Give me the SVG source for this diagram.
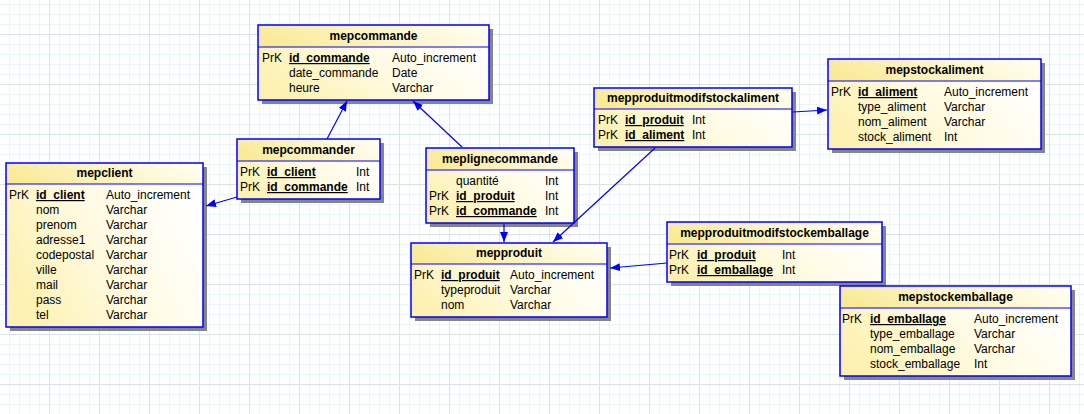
<svg xmlns="http://www.w3.org/2000/svg" width="1084" height="414" viewBox="0 0 1084 414">
<style>
text{font-family:"Liberation Sans",Arial,sans-serif;font-size:12px;fill:#000}
.t{font-weight:bold;text-anchor:middle}
.pk{font-weight:bold;text-decoration:underline}
.sh{fill:#858585}
.body{fill:url(#gb)}
.head{fill:url(#gh)}
.bd{fill:none;stroke:#0000ff;stroke-width:1.5}
.sep{stroke:#0000ff;stroke-width:1.2}
.c{stroke:#0000ff;stroke-width:1.2;fill:none;marker-end:url(#ah)}
</style>
<defs>
<pattern id="minor" width="10" height="10" patternUnits="userSpaceOnUse">
<path d="M9.5 0V10M0 4.5H10" stroke="#e8f7f7" stroke-width="1" fill="none"/>
</pattern>
<pattern id="major" width="50" height="50" patternUnits="userSpaceOnUse">
<path d="M49.5 0V50M0 34.5H50" stroke="#d6e6e6" stroke-width="1" fill="none"/>
</pattern>
<linearGradient id="gb" x1="0" y1="0.7" x2="1" y2="0.3">
<stop offset="0" stop-color="#fcf1b0"/>
<stop offset="0.5" stop-color="#fffbe2"/>
<stop offset="1" stop-color="#ffffff"/>
</linearGradient>
<linearGradient id="gh" x1="0" y1="0.6" x2="1" y2="0.4">
<stop offset="0" stop-color="#f9ea96"/>
<stop offset="1" stop-color="#fffef0"/>
</linearGradient>
<marker id="ah" markerUnits="userSpaceOnUse" markerWidth="10" markerHeight="8" refX="10" refY="4" orient="auto">
<path d="M0,0 L10,4 L0,8 z" fill="#0000ff"/>
</marker>
</defs>
<rect width="1084" height="414" fill="#ffffff"/>
<rect width="1084" height="414" fill="url(#minor)"/>
<rect width="1084" height="414" fill="url(#major)"/>

<g id="mepcommande">
<rect class="sh" x="262" y="29" width="231" height="75"/>
<rect class="body" x="258" y="25" width="231" height="75"/>
<rect class="head" x="258" y="25" width="231" height="22"/>
<line class="sep" x1="258" y1="47" x2="489" y2="47"/>
<rect class="bd" x="258" y="25" width="231" height="75"/>
<text class="t" x="373.5" y="40">mepcommande</text>
<text x="262" y="62">PrK</text><text class="pk" x="289" y="62">id_commande</text><text x="392" y="62">Auto_increment</text>
<text x="289" y="77">date_commande</text><text x="392" y="77">Date</text>
<text x="289" y="92">heure</text><text x="392" y="92">Varchar</text>
</g>

<g id="mepclient">
<rect class="sh" x="10" y="167" width="197" height="164"/>
<rect class="body" x="6" y="163" width="197" height="164"/>
<rect class="head" x="6" y="163" width="197" height="21"/>
<line class="sep" x1="6" y1="184" x2="203" y2="184"/>
<rect class="bd" x="6" y="163" width="197" height="164"/>
<text class="t" x="104.5" y="177">mepclient</text>
<text x="9" y="199">PrK</text><text class="pk" x="36" y="199">id_client</text><text x="106" y="199">Auto_increment</text>
<text x="36" y="214">nom</text><text x="106" y="214">Varchar</text>
<text x="36" y="229">prenom</text><text x="106" y="229">Varchar</text>
<text x="36" y="244">adresse1</text><text x="106" y="244">Varchar</text>
<text x="36" y="259">codepostal</text><text x="106" y="259">Varchar</text>
<text x="36" y="274">ville</text><text x="106" y="274">Varchar</text>
<text x="36" y="289">mail</text><text x="106" y="289">Varchar</text>
<text x="36" y="304">pass</text><text x="106" y="304">Varchar</text>
<text x="36" y="319">tel</text><text x="106" y="319">Varchar</text>
</g>

<g id="mepcommander">
<rect class="sh" x="241" y="143" width="143" height="60"/>
<rect class="body" x="237" y="139" width="143" height="60"/>
<rect class="head" x="237" y="139" width="143" height="22"/>
<line class="sep" x1="237" y1="161" x2="380" y2="161"/>
<rect class="bd" x="237" y="139" width="143" height="60"/>
<text class="t" x="308.5" y="154">mepcommander</text>
<text x="240" y="176">PrK</text><text class="pk" x="267" y="176">id_client</text><text x="356" y="176">Int</text>
<text x="240" y="191">PrK</text><text class="pk" x="267" y="191">id_commande</text><text x="356" y="191">Int</text>
</g>

<g id="meplignecommande">
<rect class="sh" x="430" y="152" width="148" height="75"/>
<rect class="body" x="426" y="148" width="148" height="75"/>
<rect class="head" x="426" y="148" width="148" height="22"/>
<line class="sep" x1="426" y1="170" x2="574" y2="170"/>
<rect class="bd" x="426" y="148" width="148" height="75"/>
<text class="t" x="500" y="163">meplignecommande</text>
<text x="456" y="185">quantité</text><text x="545" y="185">Int</text>
<text x="429" y="200">PrK</text><text class="pk" x="456" y="200">id_produit</text><text x="545" y="200">Int</text>
<text x="429" y="215">PrK</text><text class="pk" x="456" y="215">id_commande</text><text x="545" y="215">Int</text>
</g>

<g id="mepproduit">
<rect class="sh" x="415" y="247" width="196" height="74"/>
<rect class="body" x="411" y="243" width="196" height="74"/>
<rect class="head" x="411" y="243" width="196" height="21"/>
<line class="sep" x1="411" y1="264" x2="607" y2="264"/>
<rect class="bd" x="411" y="243" width="196" height="74"/>
<text class="t" x="509" y="257">mepproduit</text>
<text x="414" y="279">PrK</text><text class="pk" x="441" y="279">id_produit</text><text x="510" y="279">Auto_increment</text>
<text x="441" y="294">typeproduit</text><text x="510" y="294">Varchar</text>
<text x="441" y="309">nom</text><text x="510" y="309">Varchar</text>
</g>

<g id="mepproduitmodifstockaliment">
<rect class="sh" x="598" y="92" width="198" height="59"/>
<rect class="body" x="594" y="88" width="198" height="59"/>
<rect class="head" x="594" y="88" width="198" height="21"/>
<line class="sep" x1="594" y1="109" x2="792" y2="109"/>
<rect class="bd" x="594" y="88" width="198" height="59"/>
<text class="t" x="693" y="102">mepproduitmodifstockaliment</text>
<text x="598" y="124">PrK</text><text class="pk" x="625" y="124">id_produit</text><text x="692" y="124">Int</text>
<text x="598" y="139">PrK</text><text class="pk" x="625" y="139">id_aliment</text><text x="692" y="139">Int</text>
</g>

<g id="mepstockaliment">
<rect class="sh" x="832" y="63" width="213" height="90"/>
<rect class="body" x="828" y="59" width="213" height="90"/>
<rect class="head" x="828" y="59" width="213" height="22"/>
<line class="sep" x1="828" y1="81" x2="1041" y2="81"/>
<rect class="bd" x="828" y="59" width="213" height="90"/>
<text class="t" x="934.5" y="74">mepstockaliment</text>
<text x="831" y="96">PrK</text><text class="pk" x="858" y="96">id_aliment</text><text x="944" y="96">Auto_increment</text>
<text x="858" y="111">type_aliment</text><text x="944" y="111">Varchar</text>
<text x="858" y="126">nom_aliment</text><text x="944" y="126">Varchar</text>
<text x="858" y="141">stock_aliment</text><text x="944" y="141">Int</text>
</g>

<g id="mepproduitmodifstockemballage">
<rect class="sh" x="671" y="226" width="215" height="60"/>
<rect class="body" x="667" y="222" width="215" height="60"/>
<rect class="head" x="667" y="222" width="215" height="22"/>
<line class="sep" x1="667" y1="244" x2="882" y2="244"/>
<rect class="bd" x="667" y="222" width="215" height="60"/>
<text class="t" x="774.5" y="237">mepproduitmodifstockemballage</text>
<text x="669" y="259">PrK</text><text class="pk" x="697" y="259">id_produit</text><text x="782" y="259">Int</text>
<text x="669" y="274">PrK</text><text class="pk" x="697" y="274">id_emballage</text><text x="782" y="274">Int</text>
</g>

<g id="mepstockemballage">
<rect class="sh" x="844" y="290" width="231" height="90"/>
<rect class="body" x="840" y="286" width="231" height="90"/>
<rect class="head" x="840" y="286" width="231" height="22"/>
<line class="sep" x1="840" y1="308" x2="1071" y2="308"/>
<rect class="bd" x="840" y="286" width="231" height="90"/>
<text class="t" x="955.5" y="301">mepstockemballage</text>
<text x="842" y="323">PrK</text><text class="pk" x="870" y="323">id_emballage</text><text x="974" y="323">Auto_increment</text>
<text x="870" y="338">type_emballage</text><text x="974" y="338">Varchar</text>
<text x="870" y="353">nom_emballage</text><text x="974" y="353">Varchar</text>
<text x="870" y="368">stock_emballage</text><text x="974" y="368">Int</text>
</g>

<g id="connectors">
<line class="c" x1="327" y1="139" x2="347" y2="101"/>
<line class="c" x1="462" y1="147" x2="413" y2="101"/>
<line class="c" x1="237" y1="197" x2="206" y2="206"/>
<line class="c" x1="504" y1="224" x2="504" y2="242"/>
<line class="c" x1="655" y1="148" x2="553" y2="242"/>
<line class="c" x1="793" y1="112" x2="827" y2="110"/>
<line class="c" x1="667" y1="263" x2="610" y2="268"/>
</g>
</svg>
